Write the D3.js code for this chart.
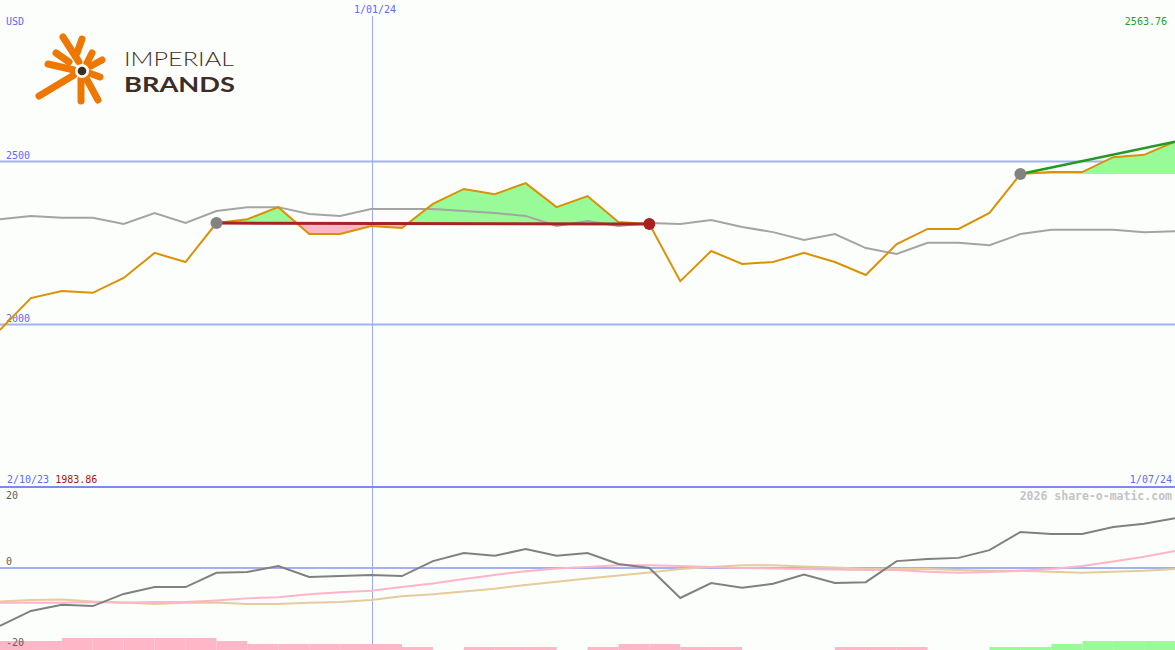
<!DOCTYPE html>
<html><head><meta charset="utf-8">
<script src="https://cdn.jsdelivr.net/npm/d3@7"></script>
<style>html,body{margin:0;padding:0;background:#fcfefc;overflow:hidden}</style>
</head><body><svg id="c" width="1175" height="650"></svg>
<script>
// ---- data (weekly closes, Christmas week missing) ----
const dates = ["2/10/23","9/10/23","16/10/23","23/10/23","30/10/23","6/11/23","13/11/23","20/11/23","27/11/23",
  "4/12/23","11/12/23","18/12/23","1/01/24","8/01/24","15/01/24","22/01/24","29/01/24","5/02/24","12/02/24",
  "19/02/24","26/02/24","4/03/24","11/03/24","18/03/24","25/03/24","1/04/24","8/04/24","15/04/24","22/04/24",
  "29/04/24","6/05/24","13/05/24","20/05/24","27/05/24","3/06/24","10/06/24","17/06/24","24/06/24","1/07/24"];
const price = [1983.86,2082,2104,2098,2144,2221,2193,2313,2325,2362,2279,2279,2304,2298,2372,2418,2402,2436,2362,
  2396,2316,2310,2134,2227,2187,2193,2221,2193,2153,2248,2295,2295,2344,2464,2470,2470,2516,2523,2563.76];
const relative = [2325,2335,2329,2329,2310,2344,2313,2350,2362,2362,2341,2335,2356,2356,2356,2350,2344,2335,2304,
  2319,2304,2313,2310,2322,2301,2285,2261,2279,2236,2218,2252,2252,2245,2279,2292,2292,2292,2285,2288];
const momentum = [-14.3,-10.6,-9.1,-9.4,-6.4,-4.7,-4.7,-1.2,-1.0,0.5,-2.2,-2.0,-1.7,-2.0,1.7,3.7,3.0,4.7,3.0,
  3.7,1.0,0,-7.4,-3.7,-4.9,-3.9,-1.6,-3.7,-3.5,1.7,2.2,2.5,4.4,8.9,8.4,8.4,10.1,10.9,12.3];
const avgFast = [-8.6,-8.6,-8.6,-8.4,-8.6,-8.4,-8.4,-8.0,-7.5,-7.2,-6.5,-6.0,-5.6,-4.7,-3.8,-2.7,-1.7,-0.8,-0.1,
  0.25,0.7,0.7,0.5,0.25,0,-0.1,-0.25,-0.4,-0.5,-0.5,-0.9,-1.2,-1.0,-0.7,-0.25,0.5,1.6,2.8,4.2];
const avgSlow = [-8.3,-7.9,-7.8,-8.3,-8.5,-8.9,-8.6,-8.5,-8.9,-8.9,-8.6,-8.4,-7.9,-7.0,-6.5,-5.8,-5.1,-4.2,-3.4,
  -2.6,-1.85,-1.1,-0.25,0.25,0.7,0.7,0.4,0.1,-0.25,-0.25,-0.25,-0.5,-0.7,-0.7,-0.9,-1.2,-0.9,-0.7,-0.25];
const signal = [-3,-3,-4,-4,-4,-4,-4,-3,-2,-2,-2,-2,-2,-1,0,-1,-1,-1,0,-1,-2,-2,-1,-1,0,0,0,-1,-1,-1,0,0,1,1,2,3,3,3];
const priceTicks = [2000, 2500];
const lowerTicks = [20, 0, -20];
const yearMarks = ["1/01/24"];
const trades = [{buy: 7, sell: 21, open: false}, {buy: 33, sell: 38, open: true}];
const currency = "USD";
const credit = "2026 share-o-matic.com";

// ---- layout ----
const W = 1175, H = 650, mainBottom = 487, lowTop = 487, lowBottom = 649;
const svg = d3.select("#c");
svg.append("rect").attr("width", W).attr("height", H).attr("fill", "#fcfefc");
const mono = "'DejaVu Sans Mono', monospace";

const x = d3.scalePoint().domain(dates).range([0, W]);
const yP = d3.scaleLinear().domain([1500, 3000]).range([mainBottom, 0]);
const yL = d3.scaleLinear().domain([-20, 20]).range([lowBottom, lowTop]);
const hS = d3.scaleLinear().domain([0, 1]).range([0, 3]);
const xi = i => x(dates[i]);

// ---- gridlines ----
svg.selectAll(".pg").data(priceTicks).join("line")
  .attr("x1", 0).attr("x2", W).attr("y1", d => Math.round(yP(d)) - 0.5).attr("y2", d => Math.round(yP(d)) - 0.5)
  .attr("stroke", "#a4b2f2").attr("stroke-width", 2);
svg.selectAll(".pl").data(priceTicks).join("text")
  .attr("x", 6).attr("y", d => Math.round(yP(d)) - 3).text(d => d)
  .attr("font-family", mono).attr("font-size", 10).attr("fill", "#5a6cf2");

// vertical year marks
yearMarks.forEach(m => {
  svg.append("line").attr("x1", Math.round(x(m)) + 1.5).attr("x2", Math.round(x(m)) + 1.5)
    .attr("y1", 16).attr("y2", H).attr("stroke", "#9aaaf8").attr("stroke-width", 1);
  svg.append("text").attr("x", x(m) + 4).attr("y", 13).attr("text-anchor", "middle").text(m)
    .attr("font-family", mono).attr("font-size", 10).attr("fill", "#5a6cf2");
});

// lower-panel zero line
svg.append("line").attr("x1", 0).attr("x2", W).attr("y1", yL(0)).attr("y2", yL(0))
  .attr("stroke", "#a4b2f2").attr("stroke-width", 2);

// ---- trade fills ----
trades.forEach((t, k) => {
  const idx = d3.range(t.buy, t.sell + 1);
  const base = yP(price[t.buy]);
  const area = d3.area().x(i => xi(i)).y0(base).y1(i => yP(price[i]));
  const ca = "clipA" + k, cb = "clipB" + k;
  const defs = svg.append("defs");
  defs.append("clipPath").attr("id", ca).append("rect").attr("x", 0).attr("y", 0).attr("width", W).attr("height", base);
  defs.append("clipPath").attr("id", cb).append("rect").attr("x", 0).attr("y", base).attr("width", W).attr("height", H - base);
  svg.append("path").datum(idx).attr("d", area).attr("fill", "#98fb98").attr("clip-path", `url(#${ca})`);
  svg.append("path").datum(idx).attr("d", area).attr("fill", "#ffb6c6").attr("clip-path", `url(#${cb})`);
});

// ---- main lines ----
const lineP = arr => d3.line().x((d, i) => xi(i)).y(d => yP(d))(arr);
svg.append("path").attr("d", lineP(relative)).attr("fill", "none").attr("stroke", "#a4a4a4").attr("stroke-width", 2);
svg.append("path").attr("d", lineP(price)).attr("fill", "none").attr("stroke", "#d99206").attr("stroke-width", 2);

// trade lines & markers
trades.forEach(t => {
  const up = price[t.sell] >= price[t.buy];
  svg.append("line").attr("x1", xi(t.buy)).attr("y1", yP(price[t.buy]))
    .attr("x2", xi(t.sell)).attr("y2", yP(price[t.sell]))
    .attr("stroke", up ? "#249a24" : "#a82424").attr("stroke-width", up ? 2.5 : 3);
});
trades.forEach(t => {
  svg.append("circle").attr("cx", xi(t.buy)).attr("cy", yP(price[t.buy])).attr("r", 6).attr("fill", "#828282");
  if (!t.open) svg.append("circle").attr("cx", xi(t.sell)).attr("cy", yP(price[t.sell])).attr("r", 6).attr("fill", "#a82020");
});

// separator line between panels
svg.append("line").attr("x1", 0).attr("x2", W).attr("y1", mainBottom).attr("y2", mainBottom)
  .attr("stroke", "#7a8af0").attr("stroke-width", 2);

// ---- labels main ----
svg.append("text").attr("x", 6).attr("y", 25).text(currency)
  .attr("font-family", mono).attr("font-size", 10).attr("fill", "#5a6cf2");
svg.append("text").attr("x", 1167).attr("y", 25).attr("text-anchor", "end").text(d3.max(price).toFixed(2))
  .attr("font-family", mono).attr("font-size", 10).attr("fill", "#22a022");
const bl = svg.append("text").attr("x", 7).attr("y", 483).attr("font-family", mono).attr("font-size", 10);
bl.append("tspan").attr("fill", "#5a6cf2").text(dates[0] + " ");
bl.append("tspan").attr("fill", "#a01818").text(d3.min(price).toFixed(2));
svg.append("text").attr("x", 1172).attr("y", 483).attr("text-anchor", "end").text(dates[dates.length - 1])
  .attr("font-family", mono).attr("font-size", 10).attr("fill", "#5a6cf2");

// ---- lower panel ----
svg.selectAll(".bar").data(signal).join("rect")
  .attr("x", (d, i) => xi(i)).attr("width", (d, i) => xi(i + 1) - xi(i))
  .attr("y", d => H - hS(Math.abs(d))).attr("height", d => hS(Math.abs(d)))
  .attr("fill", d => d >= 0 ? "#98fb98" : "#ffb6c6");

const lineL = arr => d3.line().x((d, i) => xi(i)).y(d => yL(d))(arr);
svg.append("path").attr("d", lineL(avgSlow)).attr("fill", "none").attr("stroke", "#e4cc9c").attr("stroke-width", 2);
svg.append("path").attr("d", lineL(avgFast)).attr("fill", "none").attr("stroke", "#ffb4c8").attr("stroke-width", 2);
svg.append("path").attr("d", lineL(momentum)).attr("fill", "none").attr("stroke", "#808080").attr("stroke-width", 2);

svg.selectAll(".ll").data(lowerTicks).join("text")
  .attr("x", 6).attr("y", d => Math.max(yL(d) - 3, 499)).text(d => d)
  .attr("font-family", mono).attr("font-size", 10).attr("fill", "#606060");
svg.append("text").attr("x", 1172).attr("y", 500).attr("text-anchor", "end").text(credit)
  .attr("font-family", mono).attr("font-size", 11.5).attr("font-weight", "bold").attr("fill", "#c4c4c4");

// ---- logo ----
const logo = svg.append("g");
const arms = [[63,37,79,62],[82,39,77,53],[92,53,87,63],[102,60,91,66],[100,77,89,73],[98,100,86,78],
  [81,101,81,79],[39,96,74,75],[48,64,74,70],[56,53,69,62]];
arms.forEach(a => logo.append("line").attr("x1", a[0]).attr("y1", a[1]).attr("x2", a[2]).attr("y2", a[3])
  .attr("stroke", "#ee7700").attr("stroke-width", 7).attr("stroke-linecap", "round"));
logo.append("circle").attr("cx", 82).attr("cy", 71).attr("r", 7).attr("fill", "#fcfefc");
logo.append("circle").attr("cx", 82).attr("cy", 71).attr("r", 4.3).attr("fill", "#3c2e27");
logo.append("text").attr("x", 124).attr("y", 66).text("IMPERIAL")
  .attr("font-family", "Lato, 'Open Sans', sans-serif").attr("font-weight", 300).attr("font-size", 20)
  .attr("textLength", 110).attr("lengthAdjust", "spacingAndGlyphs").attr("fill", "#3c2e27");
logo.append("text").attr("x", 124).attr("y", 92).text("BRANDS")
  .attr("font-family", "Lato, 'Open Sans', sans-serif").attr("font-weight", 700).attr("font-size", 20)
  .attr("textLength", 111).attr("lengthAdjust", "spacingAndGlyphs").attr("fill", "#3c2e27");
</script></body></html>
